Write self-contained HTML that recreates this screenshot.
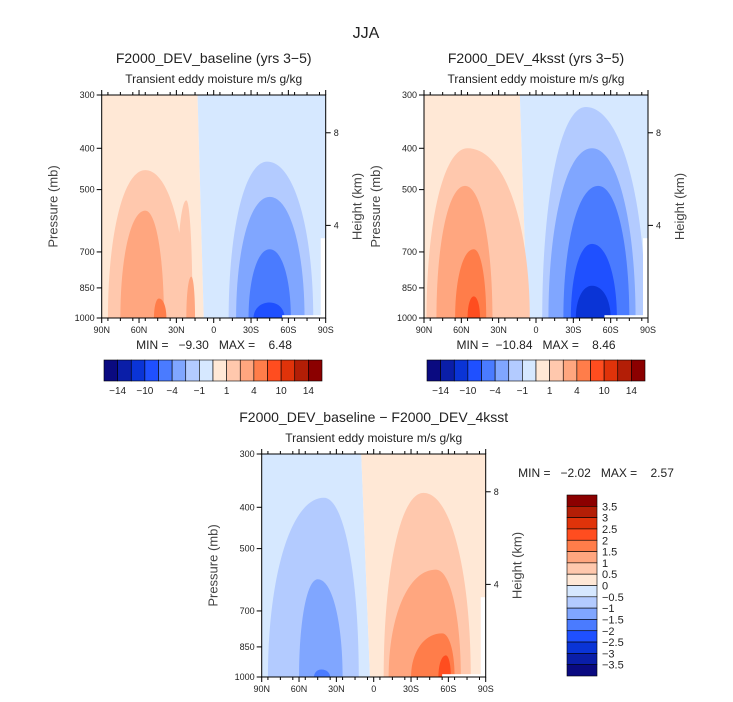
<!DOCTYPE html>
<html><head><meta charset="utf-8"><style>
html,body{margin:0;padding:0;background:#fff;}
svg{display:block;font-family:"Liberation Sans",sans-serif;}
text{white-space:pre;}
</style></head><body>
<svg id="chart" width="733" height="702" viewBox="0 0 733 702"></svg>
<script>
const levelColors = ["#0a0a80","#0a1ea8","#0a34d6","#1f50ff","#4a7bff","#80a6ff","#b3cbff","#d6e8ff","#ffe8d6","#ffc8ad","#ffa67f","#ff7d4a","#ff4d1f","#e0330a","#b31e06","#8b0000"];
const latTicks = [90,60,30,0,-30,-60,-90];
const latLabels = ["90N","60N","30N","0","30S","60S","90S"];
const presTicks = [300,400,500,700,850,1000];
const heightTicks = [8,4];
const topBarLabels = ["−14","−10","−4","−1","1","4","10","14"];
const diffBarLabels = ["3.5","3","2.5","2","1.5","1","0.5","0","−0.5","−1","−1.5","−2","−2.5","−3","−3.5"];
// blobs: [lat0, lat1, peakLat, topPressure, levelIndex]
const baseBg = [13, 8, 8, 7];
const baseBlobs = [[85,22,55,450,9],[30,17,22,530,9],[75,40,55,560,10],[22,15,18,800,10],[48,38,44,900,11],
 [-12,-80,-43,430,6],[-18,-73,-45,520,5],[-28,-62,-45,690,4],[-32,-57,-45,920,3]];
const kBg = [13, 7, 8, 7];
const kBlobs = [[88,5,55,400,9],[80,35,57,490,10],[65,40,50,690,11],[55,45,50,890,12],
 [-5,-88,-40,320,6],[-10,-80,-45,400,5],[-22,-75,-50,490,4],[-28,-65,-45,670,3],[-32,-60,-45,840,2]];
const diffBg = [10, 3, 7, 8];
const diffBlobs = [[85,12,40,380,6],[60,25,45,590,5],[48,35,42,960,4],
 [-8,-78,-40,370,9],[-12,-70,-50,560,10],[-30,-65,-55,790,11],[-52,-62,-58,890,12]];
const NS="http://www.w3.org/2000/svg";
const svg=document.getElementById('chart');
function el(t,a,p){const e=document.createElementNS(NS,t);for(const k in a)e.setAttribute(k,a[k]);(p||svg).appendChild(e);return e;}
function txt(s,x,y,size,anchor,p,name){const e=el('text',{x:x,y:y,'font-size':size,'text-anchor':anchor||'middle',fill:'#222'},p);e.textContent=s;


return e;}

function panel(x0,y0,bg,blobs,title,name){
  const W=224,H=223;
  const g=el('g',{});
  
  
  const X=lat=>x0+(90-lat)/180*W;
  const Y=p=>y0+Math.log(p/300)/Math.log(1000/300)*H;
  const bTop=X(bg[0]), bBot=X(bg[1]);
  const l=el('path',{d:`M${x0},${y0}L${bTop},${y0}L${bBot},${y0+H}L${x0},${y0+H}Z`,fill:levelColors[bg[2]]},g);
  
  const r=el('path',{d:`M${bTop},${y0}L${x0+W},${y0}L${x0+W},${y0+H}L${bBot},${y0+H}Z`,fill:levelColors[bg[3]]},g);
  
  blobs.forEach(b=>{
    const xl=X(b[0]),xr=X(b[1]),xp=X(b[2]),yt=Y(b[3]),yb=Y(1000),h=yb-yt;
    const d=`M${xl},${yb}C${xl},${yb-0.55*h} ${xp-(xp-xl)*0.6},${yt} ${xp},${yt}C${xp+(xr-xp)*0.6},${yt} ${xr},${yb-0.55*h} ${xr},${yb}Z`;
    const p=el('path',{d:d,fill:levelColors[b[4]]},g);
    
    
  });
  el('rect',{x:X(-55),y:Y(985),width:X(-90)-X(-55),height:Y(1000)-Y(985)+1,fill:'#fff'},g);
  el('rect',{x:X(-86),y:Y(650),width:X(-90)-X(-86),height:Y(1000)-Y(650),fill:'#fff'},g);
  el('rect',{x:x0,y:y0,width:W,height:H,fill:'none',stroke:'#000','stroke-width':1},g);
  latTicks.forEach((t,i)=>{const x=X(t);
    el('line',{x1:x,y1:y0+H,x2:x,y2:y0+H+5,stroke:'#000'},g);
    el('line',{x1:x,y1:y0,x2:x,y2:y0-5,stroke:'#000'},g);
    txt(latLabels[i],x,y0+H+15,9,'middle',g,'x-tick-label');});
  for(let t=-85;t<=85;t+=10){const x=X(t);el('line',{x1:x,y1:y0+H,x2:x,y2:y0+H+3,stroke:'#000'},g);el('line',{x1:x,y1:y0,x2:x,y2:y0-3,stroke:'#000'},g);}
  presTicks.forEach(p=>{const y=Y(p);el('line',{x1:x0-5,y1:y,x2:x0,y2:y,stroke:'#000'},g);txt(String(p),x0-7,y+3,9,'end',g,'y-tick-label');});
  heightTicks.forEach(h=>{const p=1000*Math.exp(-h/8);const y=Y(p);el('line',{x1:x0+W,y1:y,x2:x0+W+5,y2:y,stroke:'#000'},g);txt(String(h),x0+W+8,y+3,9,'start',g,'height-tick-label');});
  const yl=txt('Pressure (mb)',0,0,13,'middle',g,'y-axis-title');yl.setAttribute('transform',`translate(${x0-44},${y0+H/2}) rotate(-90)`);yl.setAttribute('fill','#444');
  const hl=txt('Height (km)',0,0,13,'middle',g,'height-axis-title');hl.setAttribute('transform',`translate(${x0+W+36},${y0+H/2}) rotate(-90)`);hl.setAttribute('fill','#444');
  txt(title,x0+W/2,y0-32,14,'middle',g,'panel-title');
  txt('Transient eddy moisture m/s g/kg',x0+W/2,y0-12,12,'middle',g,'panel-subtitle');
}
function hbar(x0,y0,name){
  const g=el('g',{});
  const w=218/16;
  levelColors.forEach((c,i)=>{el('rect',{x:x0+i*w,y:y0,width:w,height:21,fill:c,stroke:'#000','stroke-width':0.6},g);});
  topBarLabels.forEach((s,i)=>txt(s,x0+(2*i+1)*w,y0+34,10,'middle',g,'colorbar-label'));
}
txt('JJA',366,38,16,'middle',null,'figure-title');
panel(101.7,95,baseBg,baseBlobs,'F2000_DEV_baseline (yrs 3−5)','baseline-panel');
txt('MIN =   −9.30   MAX =    6.48',214,349,12,'middle',null,'baseline-min-max');
hbar(104,360,'baseline-colorbar');
panel(424,95,kBg,kBlobs,'F2000_DEV_4ksst (yrs 3−5)','4ksst-panel');
txt('MIN =  −10.84   MAX =    8.46',536,349,12,'middle',null,'4ksst-min-max');
hbar(427,360,'4ksst-colorbar');
panel(261.7,454,diffBg,diffBlobs,'F2000_DEV_baseline − F2000_DEV_4ksst','difference-panel');
txt('MIN =   −2.02   MAX =    2.57',596,477,12,'middle',null,'difference-min-max');
(function(){const g=el('g',{});
  const h=181/16;const rev=levelColors.slice().reverse();
  rev.forEach((c,i)=>el('rect',{x:567,y:495+i*h,width:30,height:h,fill:c,stroke:'#000','stroke-width':0.6},g));
  diffBarLabels.forEach((s,i)=>txt(s,602,495+(i+1)*h+4,11,'start',g,'colorbar-label'));})();
</script>
</body></html>
